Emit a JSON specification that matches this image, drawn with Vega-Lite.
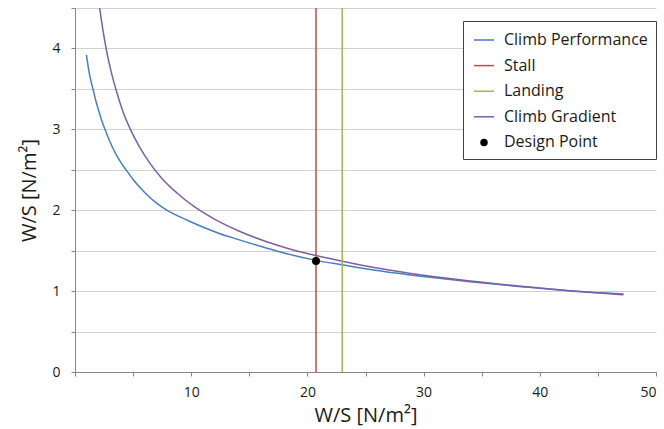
{
  "$schema": "https://vega.github.io/schema/vega-lite/v6.json",
  "width": 581,
  "height": 364,
  "autosize": {"type": "none"},
  "padding": {"left": 75, "top": 8, "right": 8, "bottom": 57},
  "background": "white",
  "config": {
    "view": {"stroke": null},
    "font": "Open Sans",
    "axis": {
      "domainColor": "#868686",
      "tickColor": "#868686",
      "gridColor": "#d0d0d0",
      "labelFontSize": 14,
      "titleFontSize": 20,
      "labelColor": "#1a1a1a",
      "titleColor": "#1a1a1a",
      "titleFontWeight": "normal",
      "labelFont": "Open Sans",
      "titleFont": "Open Sans",
      "tickSize": 4
    },
    "legend": {
      "labelFont": "Open Sans",
      "labelFontSize": 16,
      "labelColor": "#1a1a1a",
      "symbolOpacity": 1
    }
  },
  "datasets": {
    "perf": [
      {"series": "Climb Performance", "x": 0.98, "y": 3.92},
      {"series": "Climb Performance", "x": 1.2, "y": 3.72},
      {"series": "Climb Performance", "x": 1.4, "y": 3.58},
      {"series": "Climb Performance", "x": 1.58, "y": 3.48},
      {"series": "Climb Performance", "x": 1.8, "y": 3.35},
      {"series": "Climb Performance", "x": 2.0, "y": 3.25},
      {"series": "Climb Performance", "x": 2.3, "y": 3.11},
      {"series": "Climb Performance", "x": 2.58, "y": 3.0},
      {"series": "Climb Performance", "x": 3.0, "y": 2.85},
      {"series": "Climb Performance", "x": 3.5, "y": 2.7},
      {"series": "Climb Performance", "x": 4.0, "y": 2.58},
      {"series": "Climb Performance", "x": 4.39, "y": 2.5},
      {"series": "Climb Performance", "x": 5.0, "y": 2.38},
      {"series": "Climb Performance", "x": 6.0, "y": 2.22},
      {"series": "Climb Performance", "x": 7.0, "y": 2.09},
      {"series": "Climb Performance", "x": 7.89, "y": 2.0},
      {"series": "Climb Performance", "x": 9.0, "y": 1.92},
      {"series": "Climb Performance", "x": 9.9, "y": 1.86},
      {"series": "Climb Performance", "x": 11.2, "y": 1.78},
      {"series": "Climb Performance", "x": 12.48, "y": 1.71},
      {"series": "Climb Performance", "x": 14.0, "y": 1.64},
      {"series": "Climb Performance", "x": 15.6, "y": 1.57},
      {"series": "Climb Performance", "x": 17.5, "y": 1.49},
      {"series": "Climb Performance", "x": 20.74, "y": 1.38},
      {"series": "Climb Performance", "x": 23.0, "y": 1.325},
      {"series": "Climb Performance", "x": 26.0, "y": 1.255},
      {"series": "Climb Performance", "x": 30.0, "y": 1.18},
      {"series": "Climb Performance", "x": 34.0, "y": 1.115},
      {"series": "Climb Performance", "x": 38.4, "y": 1.055},
      {"series": "Climb Performance", "x": 42.5, "y": 1.005},
      {"series": "Climb Performance", "x": 47.2, "y": 0.965}
    ],
    "grad": [
      {"series": "Climb Gradient", "x": 2.09, "y": 4.53},
      {"series": "Climb Gradient", "x": 2.4, "y": 4.23},
      {"series": "Climb Gradient", "x": 2.73, "y": 3.96},
      {"series": "Climb Gradient", "x": 3.1, "y": 3.72},
      {"series": "Climb Gradient", "x": 3.55, "y": 3.48},
      {"series": "Climb Gradient", "x": 4.1, "y": 3.23},
      {"series": "Climb Gradient", "x": 4.8, "y": 2.99},
      {"series": "Climb Gradient", "x": 5.6, "y": 2.77},
      {"series": "Climb Gradient", "x": 6.5, "y": 2.57},
      {"series": "Climb Gradient", "x": 7.5, "y": 2.39},
      {"series": "Climb Gradient", "x": 8.8, "y": 2.21},
      {"series": "Climb Gradient", "x": 10.3, "y": 2.04},
      {"series": "Climb Gradient", "x": 12.0, "y": 1.89},
      {"series": "Climb Gradient", "x": 14.0, "y": 1.75},
      {"series": "Climb Gradient", "x": 16.5, "y": 1.61},
      {"series": "Climb Gradient", "x": 19.0, "y": 1.5},
      {"series": "Climb Gradient", "x": 20.74, "y": 1.44},
      {"series": "Climb Gradient", "x": 23.0, "y": 1.37},
      {"series": "Climb Gradient", "x": 26.0, "y": 1.285},
      {"series": "Climb Gradient", "x": 30.0, "y": 1.195},
      {"series": "Climb Gradient", "x": 34.0, "y": 1.125},
      {"series": "Climb Gradient", "x": 38.4, "y": 1.06},
      {"series": "Climb Gradient", "x": 42.5, "y": 1.005},
      {"series": "Climb Gradient", "x": 47.2, "y": 0.955}
    ],
    "verticals": [
      {"series": "Stall", "x": 20.74},
      {"series": "Landing", "x": 23.0}
    ],
    "design": [
      {"series": "Design Point", "x": 20.74, "y": 1.372}
    ]
  },
  "encoding": {
    "x": {
      "field": "x",
      "type": "quantitative",
      "scale": {"domain": [0, 50], "nice": false, "zero": false},
      "axis": {
        "title": "W/S [N/m²]",
        "values": [0, 5, 10, 15, 20, 25, 30, 35, 40, 45, 50],
        "labelExpr": "datum.value % 10 === 0 && datum.value > 0 ? datum.label : ''",
        "grid": false,
        "labelPadding": 9,
        "titlePadding": 6
      }
    },
    "color": {
      "field": "series",
      "type": "nominal",
      "scale": {
        "domain": ["Climb Performance", "Stall", "Landing", "Climb Gradient", "Design Point"],
        "range": ["#4a7ebb", "#be4b48", "#98b954", "#7d60a0", "#000000"]
      },
      "legend": {
        "title": null,
        "orient": "none",
        "legendX": 388,
        "legendY": 13,
        "padding": 8,
        "strokeColor": "#404040",
        "fillColor": "white",
        "symbolType": "stroke",
        "symbolSize": 400,
        "symbolStrokeWidth": 1.5,
        "symbolOffset": 2,
        "labelOffset": 9,
        "rowPadding": 6.6,
        "encode": {
          "symbols": {
            "update": {
              "shape": {"signal": "datum.value === 'Design Point' ? 'circle' : 'stroke'"},
              "size": {"signal": "datum.value === 'Design Point' ? 36 : 400"},
              "stroke": {"signal": "scale('color', datum.value)"},
              "fill": {"signal": "datum.value === 'Design Point' ? '#000000' : 'transparent'"}
            }
          }
        }
      }
    }
  },
  "layer": [
    {
      "data": {"name": "perf"},
      "mark": {"type": "line", "strokeWidth": 1.5, "clip": true, "interpolate": "monotone"},
      "encoding": {
        "y": {
          "field": "y",
          "type": "quantitative",
          "scale": {"domain": [0, 4.5], "nice": false},
          "axis": {
            "title": "W/S [N/m²]",
            "values": [0, 0.5, 1, 1.5, 2, 2.5, 3, 3.5, 4, 4.5],
            "labelExpr": "datum.value % 1 === 0 ? format(datum.value, 'd') : ''",
            "grid": true,
            "labelPadding": 11,
            "titlePadding": 12,
            "encode": {
              "labels": {"update": {"dy": {"signal": "datum.value === 0 ? 10 : (datum.value === 4 ? -3 : 0)"}}}
            }
          }
        }
      }
    },
    {
      "data": {"name": "grad"},
      "mark": {"type": "line", "strokeWidth": 1.5, "clip": true, "interpolate": "monotone"},
      "encoding": {"y": {"field": "y", "type": "quantitative"}}
    },
    {
      "data": {"name": "verticals"},
      "mark": {"type": "rule", "strokeWidth": 1.5},
      "encoding": {}
    },
    {
      "data": {"name": "design"},
      "mark": {"type": "point", "filled": true, "size": 64, "opacity": 1},
      "encoding": {"y": {"field": "y", "type": "quantitative"}}
    }
  ]
}
